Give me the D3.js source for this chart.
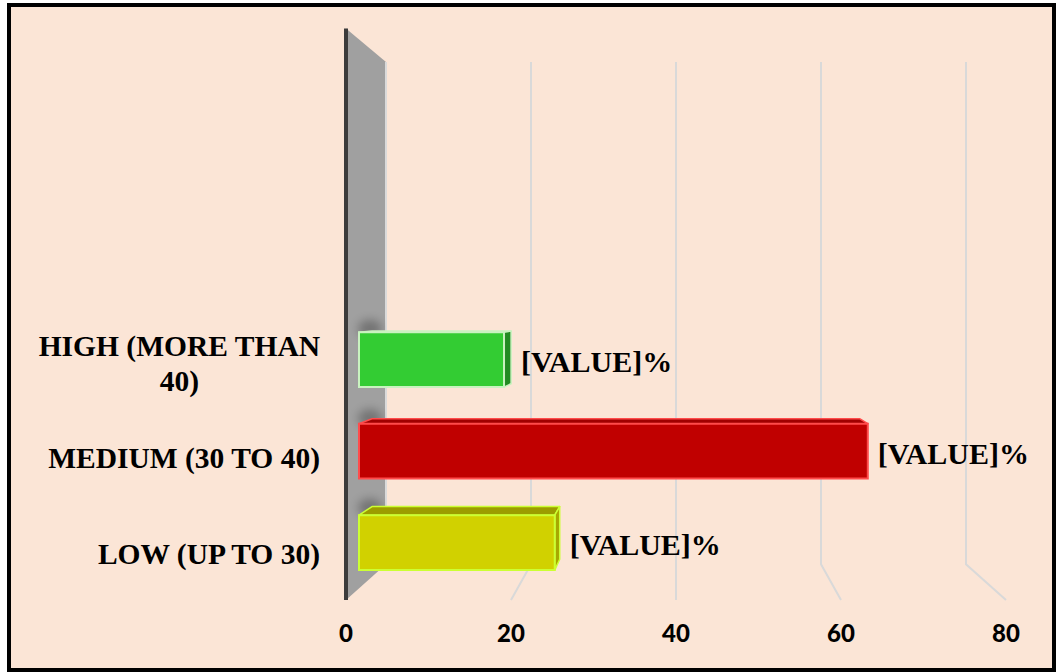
<!DOCTYPE html>
<html>
<head>
<meta charset="utf-8">
<script src="https://cdn.jsdelivr.net/npm/d3@7"></script>
<style>
  body { margin: 0; background: #ffffff; }
  svg { display: block; }
</style>
</head>
<body>
<svg id="bar-chart-svg" width="1058" height="672"></svg>
<script>
// data, bottom category first (as the chart draws them)
let categories = ["LOW (UP TO 30)", "MEDIUM (30 TO 40)", "HIGH (MORE THAN 40)"];
let values = [24.7, 64.2, 18.3];
let valueLabels = ["[VALUE]%", "[VALUE]%", "[VALUE]%"];
let xTicks = [0, 20, 40, 60, 80];

let frontColors = ["#d1d100", "#c00000", "#33cc33"];
let edgeColors = ["#ccff33", "#ff4b4b", "#c9f2c0"];
let topColors = ["#9c9c00", "#a00000", "#26a526"];
let sideColors = ["#a8a800", "#900000", "#228b22"];

let svg = d3.select('#bar-chart-svg');
let svgWidth = +svg.attr('width');
let svgHeight = +svg.attr('height');

// front plane of the 3d box
let plotLeft = 346, plotRight = 1006, plotTop = 28.5, plotBottom = 600;
let slots = 6; // the category axis has room for 6 bands, only the lower 3 are used
let bandStep = (plotBottom - plotTop) / slots;

// perspective: vanishing point and scale of the back wall
let vp = {x: 676, y: 305};
let backScale = 0.8788;
let barDepth = [0.325, 0.65];

function depthScale(d) { return 1 - d * (1 - backScale); }
function project(xf, yf, d) {
    let s = depthScale(d);
    return [vp.x + (xf - vp.x) * s, vp.y + (yf - vp.y) * s];
}

let x = d3.scaleLinear().domain([0, 80]).range([plotLeft, plotRight]);
let y = d3.scaleBand()
    .domain(categories)
    .range([plotBottom, plotBottom - categories.length * bandStep])
    .paddingInner(0.4)
    .paddingOuter(0.2);

let line = d3.line();
let serif = "'Liberation Serif', 'Times New Roman', serif";

// background + frame
svg.append("rect")
    .attr("x", 9).attr("y", 5)
    .attr("width", svgWidth - 13).attr("height", svgHeight - 7)
    .attr("fill", "#fbe5d6")
    .attr("stroke", "#000")
    .attr("stroke-width", 4);

// gridlines on back wall and floor
svg.append("g").selectAll("path")
    .data(xTicks.filter(t => t > 0))
    .enter()
    .append("path")
    .attr("d", t => line([
        project(x(t), plotTop, 1),
        project(x(t), plotBottom, 1),
        project(x(t), plotBottom, 0)
    ]))
    .attr("fill", "none")
    .attr("stroke", "#d9d9d9")
    .attr("stroke-width", 2);

// left side wall at value 0
let wallPts = [
    project(x(0), plotTop, 0),
    project(x(0), plotTop, 1),
    project(x(0), plotBottom, 1),
    project(x(0), plotBottom, 0)
];
svg.append("clipPath").attr("id", "wall-clip")
    .append("path").attr("d", line(wallPts) + "Z");

svg.append("path")
    .attr("d", line(wallPts) + "Z")
    .attr("fill", "#a0a0a0");

svg.append("path")
    .attr("d", line([wallPts[1], wallPts[2]]))
    .attr("stroke", "#dadada")
    .attr("stroke-width", 2);

svg.append("path")
    .attr("d", line([wallPts[0], wallPts[3]]))
    .attr("stroke", "#3c3c3c")
    .attr("stroke-width", 4);

// soft shadows thrown on the wall
let blur = svg.append("defs").append("filter").attr("id", "shadow-blur")
    .attr("x", "-50%").attr("y", "-50%").attr("width", "200%").attr("height", "200%");
blur.append("feGaussianBlur").attr("stdDeviation", 5);

svg.append("g")
    .attr("clip-path", "url(#wall-clip)")
    .selectAll("ellipse")
    .data(categories)
    .enter()
    .append("ellipse")
    .attr("cx", d => project(x(0), y(d), 0.5)[0] + 4)
    .attr("cy", d => project(x(0), y(d), 0.5)[1] - 3)
    .attr("rx", 12)
    .attr("ry", 9)
    .attr("fill", "#000")
    .attr("opacity", 0.28)
    .attr("filter", "url(#shadow-blur)");

// bars as 3d boxes
let bars = svg.append("g").selectAll("g")
    .data(categories)
    .enter()
    .append("g");

bars.each(function(d, i) {
    let g = d3.select(this);
    let x0 = x(0), x1 = x(values[i]);
    let yt = y(d), yb = y(d) + y.bandwidth();
    let f = barDepth[0], b = barDepth[1];

    let ftl = project(x0, yt, f), ftr = project(x1, yt, f),
        fbl = project(x0, yb, f), fbr = project(x1, yb, f),
        btl = project(x0, yt, b), btr = project(x1, yt, b),
        bbr = project(x1, yb, b);

    if (yt > vp.y) {
        g.append("path")
            .attr("d", line([ftl, ftr, btr, btl]) + "Z")
            .attr("fill", topColors[i])
            .attr("stroke", edgeColors[i])
            .attr("stroke-width", 1.5)
            .attr("stroke-linejoin", "round");
    }
    if (x1 < vp.x) {
        g.append("path")
            .attr("d", line([ftr, btr, bbr, fbr]) + "Z")
            .attr("fill", sideColors[i])
            .attr("stroke", edgeColors[i])
            .attr("stroke-width", 1.5)
            .attr("stroke-linejoin", "round");
    }
    g.append("path")
        .attr("d", line([ftl, ftr, fbr, fbl]) + "Z")
        .attr("fill", frontColors[i])
        .attr("stroke", edgeColors[i])
        .attr("stroke-width", 2);

    let labelX = Math.max(ftr[0], btr[0]) + 10;
    let labelY = (ftr[1] + fbr[1]) / 2 + 2;
    g.append("text")
        .attr("x", labelX)
        .attr("y", labelY)
        .attr("dy", "0.35em")
        .attr("font-family", serif)
        .attr("font-weight", "bold")
        .attr("font-size", "30px")
        .attr("fill", "#000")
        .text(valueLabels[i]);
});

// category labels, wrapped and right aligned as a block
let catLabelRight = 320;
let catLabelMax = 300;
let catGroup = svg.append("g")
    .attr("font-family", serif)
    .attr("font-weight", "bold")
    .attr("font-size", "29.5px")
    .attr("fill", "#000");

categories.forEach(function(cat) {
    let t = catGroup.append("text").attr("text-anchor", "middle");
    let words = cat.split(" ");
    let lines = [];
    let current = [];
    words.forEach(function(w) {
        current.push(w);
        t.text(current.join(" "));
        if (t.node().getComputedTextLength() > catLabelMax && current.length > 1) {
            current.pop();
            lines.push(current.join(" "));
            current = [w];
        }
    });
    lines.push(current.join(" "));
    t.text(null);

    let widths = lines.map(function(l) {
        t.text(l);
        let w = t.node().getComputedTextLength();
        t.text(null);
        return w;
    });
    let blockCenter = catLabelRight - d3.max(widths) / 2;
    let lineHeight = 35;
    let cy = y(cat) + y.bandwidth() / 2 + 1;
    let firstY = cy - (lines.length - 1) * lineHeight / 2;

    lines.forEach(function(l, k) {
        t.append("tspan")
            .attr("x", blockCenter)
            .attr("y", firstY + k * lineHeight)
            .attr("dy", "0.35em")
            .text(l);
    });
});

// value axis tick labels along the front edge
svg.append("g").selectAll("text")
    .data(xTicks)
    .enter()
    .append("text")
    .attr("x", d => x(d))
    .attr("y", 634)
    .attr("dy", "0.35em")
    .attr("text-anchor", "middle")
    .attr("font-family", "Lato, 'Open Sans', sans-serif")
    .attr("font-weight", "900")
    .attr("font-size", "24px")
    .attr("fill", "#000")
    .text(d => d);
</script>
</body>
</html>
